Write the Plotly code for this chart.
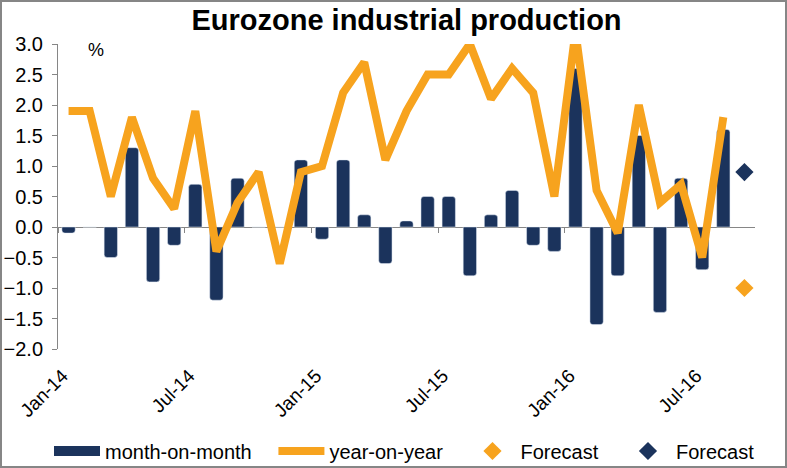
import plotly.graph_objects as go

months = ["Jan-14","Feb-14","Mar-14","Apr-14","May-14","Jun-14","Jul-14","Aug-14","Sep-14","Oct-14","Nov-14","Dec-14",
          "Jan-15","Feb-15","Mar-15","Apr-15","May-15","Jun-15","Jul-15","Aug-15","Sep-15","Oct-15","Nov-15","Dec-15",
          "Jan-16","Feb-16","Mar-16","Apr-16","May-16","Jun-16","Jul-16","Aug-16","Sep-16"]

mom = [-0.1, 0.0, -0.5, 1.3, -0.9, -0.3, 0.7, -1.2, 0.8, 0.0, 0.0, 1.1,
       -0.2, 1.1, 0.2, -0.6, 0.1, 0.5, 0.5, -0.8, 0.2, 0.6, -0.3, -0.4,
       2.6, -1.6, -0.8, 1.5, -1.4, 0.8, -0.7, 1.6]

yoy = [1.9, 1.9, 0.5, 1.8, 0.8, 0.3, 1.9, -0.4, 0.4, 0.9, -0.6, 0.9,
       1.0, 2.2, 2.7, 1.1, 1.9, 2.5, 2.5, 3.0, 2.1, 2.6, 2.2, 0.5,
       3.2, 0.6, -0.1, 2.0, 0.4, 0.7, -0.5, 1.8]

forecast_month = ["Sep-16"]
forecast_yoy = [-1.0]
forecast_mom = [0.9]

tick_labels = ["Jan-14", "Jul-14", "Jan-15", "Jul-15", "Jan-16", "Jul-16"]

NAVY = "#1B335C"
ORANGE = "#F7A31E"
GRAY = "#868686"
FONT = "Arial, Liberation Sans, sans-serif"
PAD = "\u00a0" * 3  # trailing spacing between legend entries

idx = {m: i for i, m in enumerate(months)}
x_hist = [idx[m] for m in months[:len(mom)]]
x_fc = [idx[m] for m in forecast_month]
tickvals = [idx[t] for t in tick_labels]

fig = go.Figure()
fig.add_trace(go.Bar(x=x_hist, y=mom, name="month-on-month", marker=dict(color=NAVY, cornerradius=3),
                     width=0.63, showlegend=False, legendgroup="mom"))
# legend swatch for the bars (wide navy block like the original)
fig.add_trace(go.Scatter(x=[None], y=[None], name="month-on-month" + PAD, mode="lines",
                         line=dict(color=NAVY, width=15), legendgroup="mom"))
fig.add_trace(go.Scatter(x=x_hist, y=yoy, name="year-on-year" + PAD, mode="lines",
                         line=dict(color=ORANGE, width=8), cliponaxis=True))
fig.add_trace(go.Scatter(x=x_fc, y=forecast_yoy, name="Forecast" + PAD, mode="markers",
                         marker=dict(symbol="diamond", size=14, color=ORANGE)))
fig.add_trace(go.Scatter(x=x_fc, y=forecast_mom, name="Forecast", mode="markers",
                         marker=dict(symbol="diamond", size=14, color=NAVY)))
# helper trace for the zero-line axis with boundary ticks
fig.add_trace(go.Scatter(x=[-0.5, len(months) - 0.5], y=[0, 0], xaxis="x2", mode="lines",
                         line=dict(width=0), showlegend=False, hoverinfo="skip"))

W, H = 787, 468
L, R, T, B = 58, 32, 44, 119
pw = W - L - R
ph = H - T - B

fig.update_layout(
    width=W, height=H,
    margin=dict(l=L, r=R, t=T, b=B, autoexpand=False),
    paper_bgcolor="white", plot_bgcolor="white",
    font=dict(family=FONT, color="black"),
    title=dict(text="<b>Eurozone industrial production</b>", xref="paper", x=0.5, xanchor="center",
               y=1 - 20 / H, yanchor="middle", font=dict(size=29, family=FONT, color="black")),
    xaxis=dict(range=[-0.5, len(months) - 0.5], tickvals=tickvals, ticktext=tick_labels,
               tickangle=-45, tickfont=dict(size=19), showline=False, showgrid=False,
               zeroline=False, ticks="", ticklabelstandoff=11, ticklabelshift=-6, automargin=False),
    xaxis2=dict(overlaying="x", matches="x", anchor="free", position=2 / 5,
                tickvals=[v - 0.5 for v in range(0, len(months), 6)], showticklabels=False,
                ticks="outside", ticklen=5, tickcolor=GRAY, showline=True, linecolor=GRAY,
                linewidth=1, showgrid=False, zeroline=False, layer="below traces", automargin=False),
    yaxis=dict(range=[-2, 3], dtick=0.5, tickformat=".1f", tickfont=dict(size=20),
               showline=True, linecolor=GRAY, linewidth=1, ticks="outside", ticklen=5,
               tickcolor=GRAY, showgrid=False, zeroline=False, automargin=False,
               ticklabelstandoff=5),
    legend=dict(orientation="h", x=-9 / pw, xanchor="left", y=-(451 - (T + ph)) / ph,
                yanchor="middle", font=dict(size=20, family=FONT), itemwidth=46,
                traceorder="normal", bgcolor="rgba(0,0,0,0)"),
    showlegend=True,
    annotations=[dict(text="%", xref="paper", yref="paper", x=(96 - L) / pw, y=1 - (50 - T) / ph,
                      showarrow=False, font=dict(size=18, family=FONT), xanchor="center", yanchor="middle")],
    shapes=[dict(type="rect", xref="paper", yref="paper",
                 x0=-(L - 1) / pw, x1=(W - L - 1) / pw, y0=-(B - 1) / ph, y1=(H - B - 1) / ph,
                 line=dict(color=GRAY, width=2), layer="above")],
)

fig.write_html("out.html", config={"displayModeBar": False},
               post_script="document.body.style.margin='0';document.body.style.overflow='hidden';")
